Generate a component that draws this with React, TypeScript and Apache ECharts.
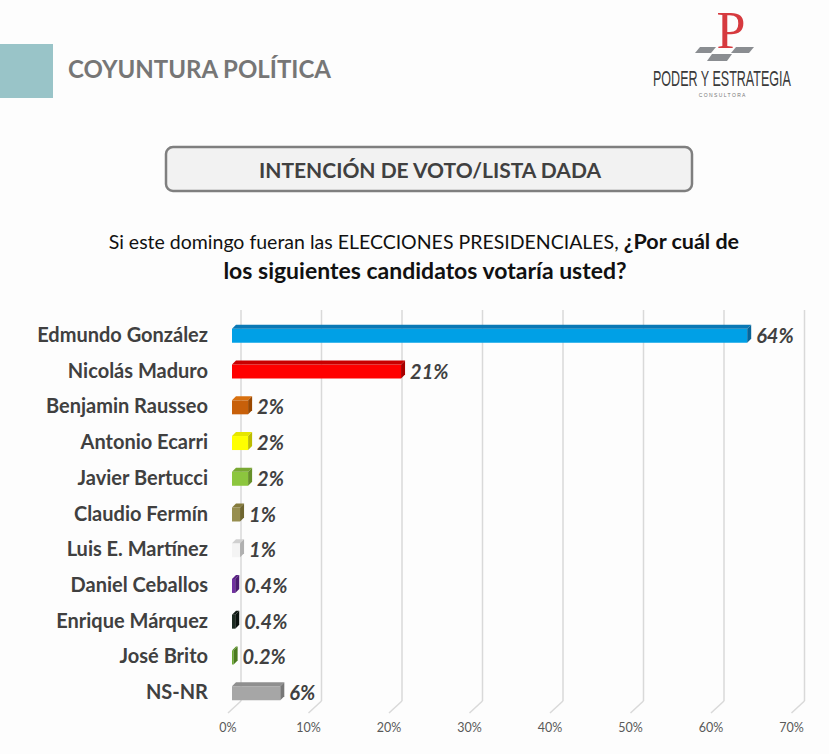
import React, { useEffect, useRef } from "react";
import * as echarts from "echarts";

const categories = [
  "Edmundo González",
  "Nicolás Maduro",
  "Benjamin Rausseo",
  "Antonio Ecarri",
  "Javier Bertucci",
  "Claudio Fermín",
  "Luis E. Martínez",
  "Daniel Ceballos",
  "Enrique Márquez",
  "José Brito",
  "NS-NR",
];
const values = [64, 21, 2, 2, 2, 1, 1, 0.4, 0.4, 0.2, 6];
const valueLabels = ["64%", "21%", "2%", "2%", "2%", "1%", "1%", "0.4%", "0.4%", "0.2%", "6%"];
const frontColors = ["#00a0e6", "#ff0000", "#c8600a", "#ffff00", "#8cc63e", "#978e4f", "#f4f4f4", "#7030a0", "#1c2b22", "#6aa830", "#a6a6a6"];
const topColors = ["#0a78b5", "#c80000", "#d8700f", "#e6e600", "#79a832", "#857b3c", "#d0d0d0", "#5a2285", "#101a14", "#5a9026", "#8f8f8f"];
const sideColors = ["#06659a", "#a80000", "#9a4800", "#bcbc00", "#66902a", "#6f6630", "#b0b0b0", "#4a1a70", "#0a120e", "#4a7a1e", "#777777"];
const xTicks = [0, 10, 20, 30, 40, 50, 60, 70];

const FONT = "Lato, 'Open Sans', sans-serif";

export default function App() {
  const ref = useRef<HTMLDivElement>(null);
  useEffect(() => {
    if (!ref.current) return;
    const chart = echarts.init(ref.current, undefined, { renderer: "svg" });
    const D = 4;
    chart.setOption({
      animation: false,
      backgroundColor: "#fdfdfd",
      grid: { left: 232, top: 316, width: 563.5, height: 393, containLabel: false },
      xAxis: {
        type: "value",
        min: 0,
        max: 70,
        interval: 10,
        splitLine: { show: false },
        axisLine: { show: false },
        axisTick: { show: false },
        axisLabel: {
          formatter: "{value}%",
          color: "#595959",
          fontSize: 12.5,
          fontFamily: FONT,
          margin: 12,
          padding: [0, 8, 0, 0],
        },
      },
      yAxis: {
        type: "category",
        data: categories,
        inverse: true,
        axisLine: { show: false },
        axisTick: { show: false },
        splitLine: { show: false },
        axisLabel: {
          color: "#404040",
          fontSize: 20,
          fontWeight: "bold",
          fontFamily: FONT,
          margin: 24,
        },
      },
      graphic: [
        { type: "rect", shape: { x: 0, y: 44, width: 53, height: 54 }, style: { fill: "#99c4c8" } },
        {
          type: "text",
          x: 68,
          y: 68,
          style: { text: "COYUNTURA POLÍTICA", font: `bold 24px ${FONT}`, fill: "#767676", align: "left", verticalAlign: "middle" },
        },
        // logo
        { type: "polygon", shape: { points: [[700, 47], [716, 47], [711, 53], [695, 53]] }, style: { fill: "#8a8d91" } },
        { type: "polygon", shape: { points: [[736, 47], [754, 47], [749, 53], [731, 53]] }, style: { fill: "#8a8d91" } },
        { type: "polygon", shape: { points: [[712, 54], [732, 54], [727, 61], [707, 61]] }, style: { fill: "#8a8d91" } },
        {
          type: "text",
          x: 731,
          y: 30,
          style: { text: "P", font: "52px 'Liberation Serif', serif", fill: "#d63a3f", align: "center", verticalAlign: "middle" },
        },
        {
          type: "group",
          x: 653,
          y: 79,
          scaleX: 0.57,
          children: [
            {
              type: "text",
              x: 0,
              y: 0,
              style: { text: "PODER Y ESTRATEGIA", font: "22px 'Liberation Sans', sans-serif", fill: "#3a3a3a", align: "left", verticalAlign: "middle" },
            },
          ],
        },
        {
          type: "text",
          x: 722,
          y: 95,
          style: { text: "C O N S U L T O R A", font: "5px 'Liberation Sans', sans-serif", fill: "#777", align: "center", verticalAlign: "middle" },
        },
        // title box
        {
          type: "rect",
          shape: { x: 166, y: 147, width: 526, height: 44, r: 7 },
          style: { fill: "#f2f2f2", stroke: "#7f7f7f", lineWidth: 2.5 },
        },
        {
          type: "text",
          x: 430,
          y: 169,
          style: { text: "INTENCIÓN DE VOTO/LISTA DADA", font: `bold 21px ${FONT}`, fill: "#404040", align: "center", verticalAlign: "middle" },
        },
        {
          type: "text",
          x: 424,
          y: 241,
          style: {
            text: "{n|Si este domingo fueran las ELECCIONES PRESIDENCIALES, }{b|¿Por cuál de}",
            align: "center",
            verticalAlign: "middle",
            rich: {
              n: { fontSize: 19.5, fontFamily: FONT, fill: "#111", color: "#111" },
              b: { fontSize: 21.5, fontFamily: FONT, fontWeight: "bold", fill: "#111", color: "#111" },
            },
          },
        },
        {
          type: "text",
          x: 425,
          y: 270,
          style: { text: "los siguientes candidatos votaría usted?", font: `bold 23px ${FONT}`, fill: "#111", align: "center", verticalAlign: "middle" },
        },
      ],
      series: [
        {
          type: "custom",
          name: "grid",
          z: 1,
          silent: true,
          data: xTicks.map((t) => [t, 0]),
          encode: { x: 0, y: 1 },
          renderItem: (params: any, api: any) => {
            const p = api.coord([api.value(0), 0]);
            const cs = params.coordSys;
            const x = p[0];
            const yb = cs.y + cs.height;
            return {
              type: "group",
              children: [
                { type: "line", shape: { x1: x + 9, y1: cs.y - 6, x2: x + 9, y2: yb - 8 }, style: { stroke: "#d9d9d9", lineWidth: 1.5 } },
                { type: "line", shape: { x1: x + 9, y1: yb - 8, x2: x - 4, y2: yb + 4 }, style: { stroke: "#d9d9d9", lineWidth: 1.5 } },
              ],
            };
          },
        },
        {
          type: "custom",
          name: "bars",
          z: 5,
          data: values.map((v, i) => [v, i]),
          encode: { x: 0, y: 1 },
          renderItem: (params: any, api: any) => {
            const i = params.dataIndex;
            const v = api.value(0);
            const idx = api.value(1);
            const s = api.coord([0, idx]);
            const e = api.coord([v, idx]);
            const c = s[1];
            const x0 = s[0];
            const x1 = e[0];
            const y0 = c - 5;
            const y1 = c + 9;
            return {
              type: "group",
              children: [
                { type: "rect", shape: { x: x0, y: y0, width: x1 - x0, height: y1 - y0 }, style: { fill: frontColors[i] } },
                { type: "polygon", shape: { points: [[x0, y0], [x1, y0], [x1 + D, y0 - D], [x0 + D, y0 - D]] }, style: { fill: topColors[i] } },
                { type: "polygon", shape: { points: [[x1, y0], [x1 + D, y0 - D], [x1 + D, y1 - D], [x1, y1]] }, style: { fill: sideColors[i] } },
                {
                  type: "text",
                  x: x1 + D + 5,
                  y: c + 1,
                  style: { text: valueLabels[i], font: `italic bold 20px ${FONT}`, fill: "#404040", align: "left", verticalAlign: "middle" },
                },
              ],
            };
          },
        },
      ],
    });
    return () => chart.dispose();
  }, []);
  return <div ref={ref} style={{ position: "fixed", left: 0, top: 0, width: 829, height: 754 }} />;
}
